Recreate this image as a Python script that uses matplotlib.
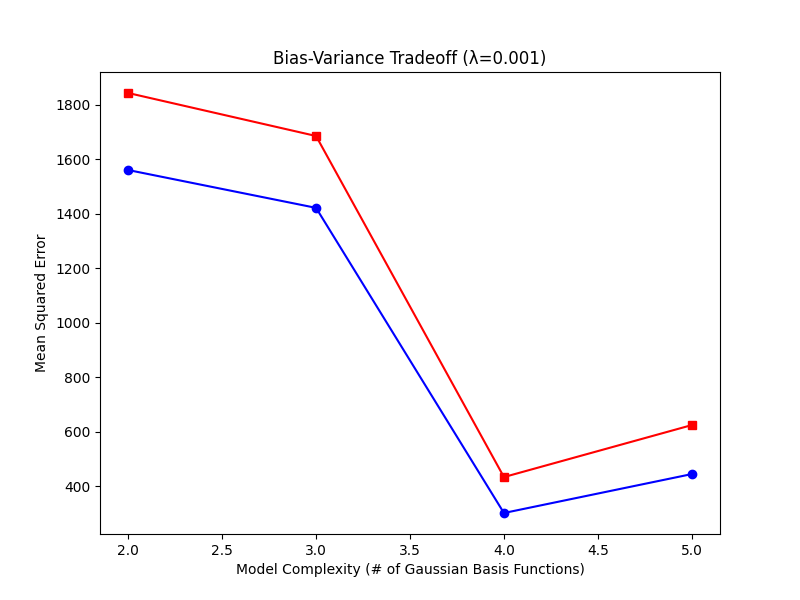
import matplotlib
matplotlib.use('Agg')
import matplotlib.pyplot as plt

complexity = [2, 3, 4, 5]
train_mse = [1561, 1422, 301, 444]
test_mse = [1844, 1686, 433, 624]

plt.figure(figsize=(8, 6), dpi=100)
plt.plot(complexity, train_mse, 'b-o')
plt.plot(complexity, test_mse, 'r-s')
plt.title('Bias-Variance Tradeoff (λ=0.001)')
plt.xlabel('Model Complexity (# of Gaussian Basis Functions)')
plt.ylabel('Mean Squared Error')
plt.savefig('out.png')
